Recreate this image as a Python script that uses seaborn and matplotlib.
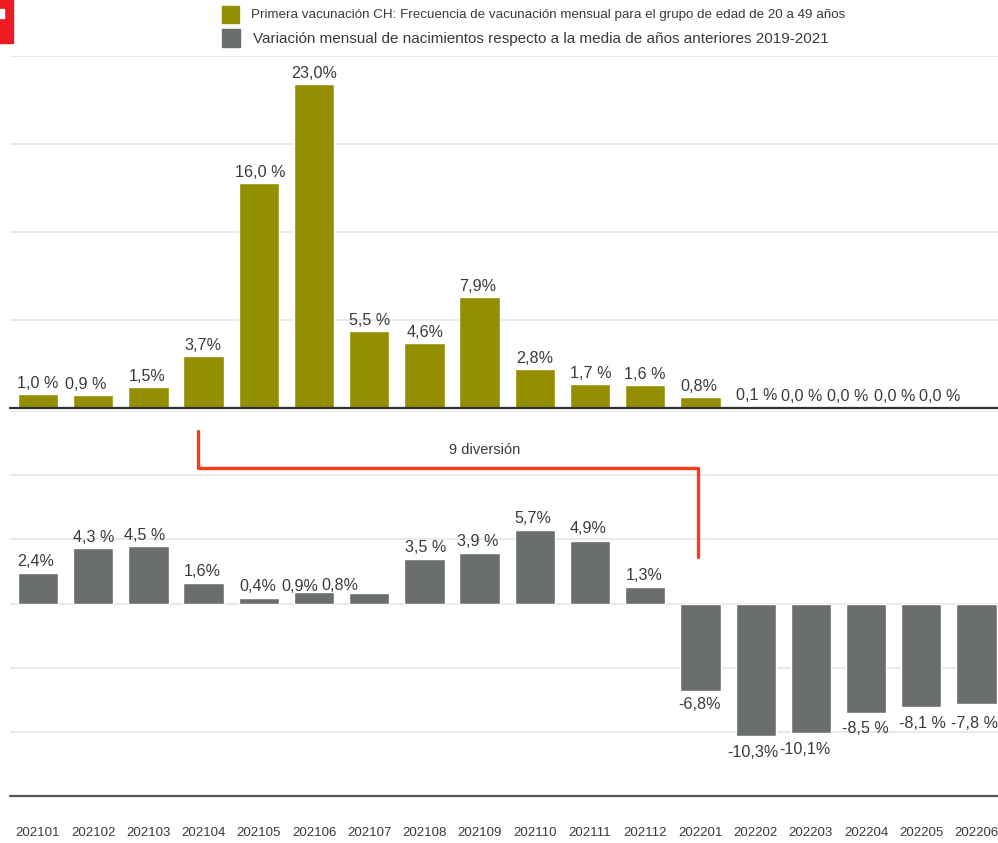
import matplotlib
matplotlib.use('Agg')
import matplotlib.pyplot as plt
import seaborn as sns
from matplotlib.lines import Line2D
from matplotlib.patches import Rectangle

# data
months = ['202101', '202102', '202103', '202104', '202105', '202106',
          '202107', '202108', '202109', '202110', '202111', '202112',
          '202201', '202202', '202203', '202204', '202205', '202206']
vacunacion = [1.0, 0.9, 1.5, 3.7, 16.0, 23.0, 5.5, 4.6, 7.9, 2.8, 1.7, 1.6,
              0.8, 0.1, 0.0, 0.0, 0.0, 0.0]
nacimientos = [2.4, 4.3, 4.5, 1.6, 0.4, 0.9, 0.8, 3.5, 3.9, 5.7, 4.9, 1.3,
               -6.8, -10.3, -10.1, -8.5, -8.1, -7.8]
labels_vac = ['1,0 %', '0,9 %', '1,5%', '3,7%', '16,0 %', '23,0%', '5,5 %', '4,6%', '7,9%',
              '2,8%', '1,7 %', '1,6 %', '0,8%', '0,1 %', '0,0 %', '0,0 %', '0,0 %', '0,0 %']
labels_nac = ['2,4%', '4,3 %', '4,5 %', '1,6%', '0,4%', '0,9%', '0,8%', '3,5 %', '3,9 %',
              '5,7%', '4,9%', '1,3%', '-6,8%', '-10,3%', '-10,1%', '-8,5 %', '-8,1 %', '-7,8 %']
grid_vac = [0, 6.25, 12.5, 18.75, 25]
grid_nac = [-15, -10, -5, 0, 5, 10, 15]

# label nudges in px, the source squeezes some labels sideways
dx_vac = [0, -8, -1, -1, 1, 0, 0, 1, -2, 0, 1, 0, -2, 1, -9, -18, -27, -37]
dx_nac = [-2, 0, -4, -1, -1, -14, -29, 1, -2, -2, -2, -1, -1, -3, -6, -1, 1, -2]
dy_nac = [7, 6, 6, 7, 7, 1, 3, 7, 7, 7, 8, 7, -18, -21, -21, -20, -21, -24]

OLIVA = '#948f00'
GRIS = '#6b6f6c'
ROJO = '#fb3a1c'
TEXTO = '#3a3a3a'
W, H = 998, 843

sns.set_style('white')
plt.rcParams['font.family'] = ['Liberation Sans', 'DejaVu Sans']

fig = plt.figure(figsize=(W / 100, H / 100), dpi=100, facecolor='white')


def px_axes(left, top, right, bottom):
    return fig.add_axes([left / W, 1 - bottom / H, (right - left) / W, (bottom - top) / H])


ax1 = px_axes(10, 56, 998, 408)
ax2 = px_axes(10, 411, 998, 796)

sns.barplot(x=months, y=vacunacion, color=OLIVA, saturation=1, width=0.73, ax=ax1)
sns.barplot(x=months, y=nacimientos, color=GRIS, saturation=1, width=0.73, ax=ax2)

for ax, grid in ((ax1, grid_vac), (ax2, grid_nac)):
    ax.set_xlim(-0.507, 17.39)
    ax.set_ylim(grid[0], grid[-1])
    ax.set_yticks(grid)
    ax.set_yticklabels([])
    ax.grid(axis='y', color='#e3e3e3', lw=1.1)
    ax.set_axisbelow(True)
    ax.tick_params(length=0)
    ax.set_facecolor('none')
    sns.despine(ax=ax, left=True, right=True, top=True, bottom=True)

ax1.set_xticklabels([])
ax1.axhline(0, color='#2f2f2f', lw=1.6, zorder=5, clip_on=False)
ax2.axhline(-15, color='#555555', lw=1.6, zorder=5, clip_on=False)
ax2.tick_params(axis='x', labelsize=9.5, labelcolor=TEXTO, pad=22.5)

for i, (v, t, d) in enumerate(zip(vacunacion, labels_vac, dx_vac)):
    ax1.annotate(t, (i, v), xytext=(d, 6 if v > 0.5 else 7), textcoords='offset pixels',
                 ha='center', va='baseline', fontsize=11.6, color=TEXTO, annotation_clip=False)
for i, (v, t, d, e) in enumerate(zip(nacimientos, labels_nac, dx_nac, dy_nac)):
    ax2.annotate(t, (i, v), xytext=(d, e), textcoords='offset pixels',
                 ha='center', va='baseline', fontsize=11.6, color=TEXTO, annotation_clip=False)

# legend block
fig.add_artist(Rectangle((222 / W, 1 - 23 / H), 17 / W, 17 / H, transform=fig.transFigure, color=OLIVA))
fig.add_artist(Rectangle((222 / W, 1 - 47 / H), 18 / W, 18 / H, transform=fig.transFigure, color=GRIS))
fig.text(251 / W, 1 - 15 / H, 'Primera vacunación CH: Frecuencia de vacunación mensual para el grupo de edad de 20 a 49 años',
         fontsize=9.6, color=TEXTO, va='center')
fig.text(253 / W, 1 - 39 / H, 'Variación mensual de nacimientos respecto a la media de años anteriores 2019-2021',
         fontsize=11, color=TEXTO, va='center')

# red corner logo
fig.add_artist(Rectangle((0, 1 - 43 / H), 13 / W, 43 / H, transform=fig.transFigure, color='#ed1c24'))
fig.add_artist(Rectangle((0, 1 - 18 / H), 4 / W, 9 / H, transform=fig.transFigure, color='white'))

# red bracket
fig.add_artist(Line2D([198 / W, 198 / W, 698 / W, 698 / W],
                      [1 - 431 / H, 1 - 468 / H, 1 - 468 / H, 1 - 557 / H],
                      transform=fig.transFigure, color=ROJO, lw=2.4, solid_joinstyle='round'))
fig.text(485 / W, 1 - 450 / H, '9 diversión', fontsize=10.5, color=TEXTO, ha='center', va='center')

plt.savefig('out.png', dpi=100)
